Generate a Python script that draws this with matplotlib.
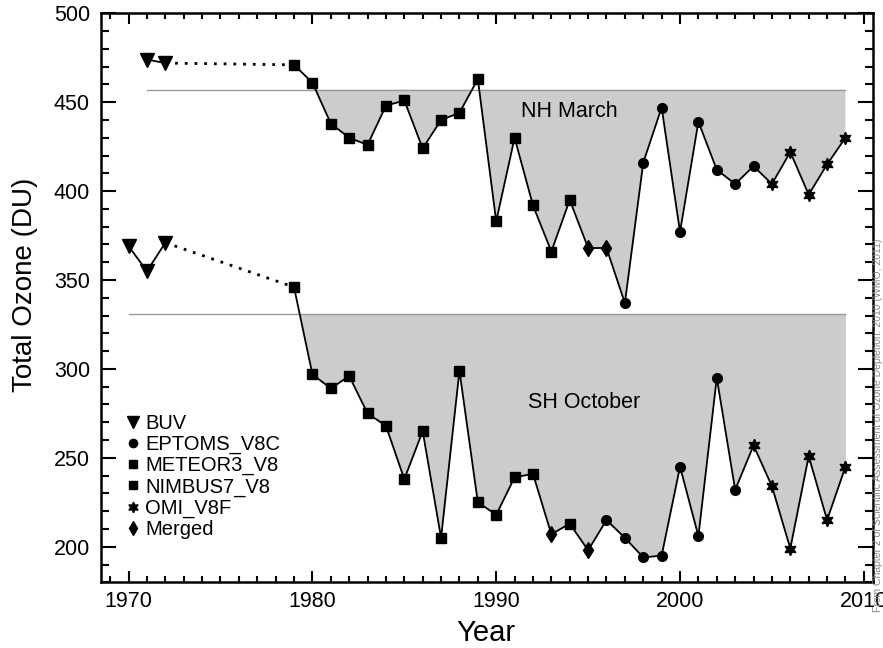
import matplotlib
matplotlib.use("Agg")
import matplotlib.pyplot as plt
from matplotlib.lines import Line2D
from matplotlib.ticker import MultipleLocator

plt.rcParams['font.family'] = ['Liberation Sans', 'DejaVu Sans']

# Dados
buv_nh_anos = [1971, 1972]
buv_nh = [474, 472]
buv_sh_anos = [1970, 1971, 1972]
buv_sh = [369, 355, 371]

anos = list(range(1979, 2010))
nh_marco = [471, 461, 438, 430, 426, 448, 451, 424, 440, 444, 463,
            383, 430, 392, 366, 395, 368, 368, 337, 416, 447,
            377, 439, 412, 404, 414, 404, 422, 398, 415, 430]
fonte_nh = ['NIMBUS7_V8'] * 14 + ['METEOR3_V8'] * 2 + ['Merged'] * 2 + \
           ['EPTOMS_V8C'] * 8 + ['OMI_V8F'] * 5
sh_outubro = [346, 297, 289, 296, 275, 268, 238, 265, 205, 299, 225,
              218, 239, 241, 207, 213, 198, 215, 205, 194, 195,
              245, 206, 295, 232, 257, 234, 199, 251, 215, 245]
fonte_sh = ['NIMBUS7_V8'] * 14 + ['Merged', 'METEOR3_V8', 'Merged'] + \
           ['EPTOMS_V8C'] * 8 + ['OMI_V8F'] * 6

ref_nh = 457
ref_sh = 331

marcadores = {
    'BUV': ('v', 9.5),
    'EPTOMS_V8C': ('o', 7),
    'METEOR3_V8': ('s', 6.5),
    'NIMBUS7_V8': ('s', 6.5),
    'OMI_V8F': ((6, 1, 0), 9),
    'Merged': ('d', 8),
}

fig = plt.figure(figsize=(8.83, 6.48), dpi=100)
ax = fig.add_axes([0.1144, 0.1014, 0.8743, 0.8781])

# linhas de referencia e sombreamento
ax.plot([1971, 2009], [ref_nh, ref_nh], color='#999999', lw=1, zorder=1)
ax.plot([1970, 2009], [ref_sh, ref_sh], color='#999999', lw=1, zorder=1)
ax.fill_between(anos, nh_marco, ref_nh, where=[v < ref_nh for v in nh_marco],
                interpolate=True, color='#cccccc', lw=0, zorder=0)
ax.fill_between(anos, sh_outubro, ref_sh, where=[v < ref_sh for v in sh_outubro],
                interpolate=True, color='#cccccc', lw=0, zorder=0)

for buv_anos, buv, serie, fonte in [(buv_nh_anos, buv_nh, nh_marco, fonte_nh),
                                     (buv_sh_anos, buv_sh, sh_outubro, fonte_sh)]:
    ax.plot(buv_anos, buv, color='black', lw=1.3, marker='v', ms=9.5, zorder=3)
    ax.plot([buv_anos[-1], anos[0]], [buv[-1], serie[0]], color='black',
            lw=2, linestyle=(0, (1, 2.5)), zorder=2)
    ax.plot(anos, serie, color='black', lw=1.3, zorder=3)
    for nome, (m, ms) in marcadores.items():
        xs = [a for a, f in zip(anos, fonte) if f == nome]
        ys = [v for v, f in zip(serie, fonte) if f == nome]
        if xs:
            ax.plot(xs, ys, linestyle='none', marker=m, ms=ms, color='black', zorder=4)

ax.text(1994.0, 445, 'NH March', fontsize=15.5, ha='center', va='center')
ax.text(1994.8, 281, 'SH October', fontsize=15.5, ha='center', va='center')

# legenda
handles = [Line2D([], [], linestyle='none', marker=marcadores[n][0], color='black',
                  ms=marcadores[n][1] * 0.85) for n in marcadores]
ax.legend(handles, list(marcadores.keys()), loc='upper left',
          bbox_to_anchor=(0.034, 0.296), frameon=False, fontsize=14.5,
          handlelength=0.6, handletextpad=0.3, labelspacing=0.1,
          borderaxespad=0, borderpad=0)

ax.set_xlim(1968.5, 2010.5)
ax.set_ylim(180, 500)
ax.xaxis.set_major_locator(MultipleLocator(10))
ax.xaxis.set_minor_locator(MultipleLocator(1))
ax.yaxis.set_major_locator(MultipleLocator(50))
ax.yaxis.set_minor_locator(MultipleLocator(10))
ax.tick_params(axis='both', which='both', direction='in', top=True, right=True,
               width=1.5, labelsize=15.5)
ax.tick_params(axis='y', which='major', length=11, pad=8)
ax.tick_params(axis='y', which='minor', length=6)
ax.tick_params(axis='x', which='major', length=8, pad=6)
ax.tick_params(axis='x', which='minor', length=4)
for s in ax.spines.values():
    s.set_linewidth(1.8)

ax.set_xlabel('Year', fontsize=21)
ax.set_ylabel('Total Ozone (DU)', fontsize=20)
ax.xaxis.set_label_coords(0.498, -0.064)
ax.yaxis.set_label_coords(-0.0816, 0.5225)

fig.text(0.9943, 0.056, 'From Chapter 2 of Scientific Assessment of Ozone Depletion: 2010 (WMO, 2011)',
         rotation=90, fontsize=7.5, color='#888888', ha='center', va='bottom')

plt.savefig('out.png', dpi=100)
